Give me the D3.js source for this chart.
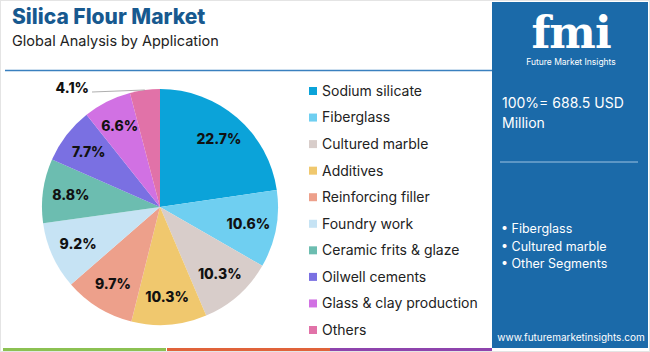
<!DOCTYPE html>
<html>
<head>
<meta charset="utf-8">
<script src="https://cdn.jsdelivr.net/npm/d3@7"></script>
<style>
  body { margin: 0; background: #fff; }
  svg { display: block; font-family: Inter, "Open Sans", sans-serif; }
</style>
</head>
<body>
<div id="chart"></div>
<script>
// Dữ liệu biểu đồ
const categories = ["Sodium silicate", "Fiberglass", "Cultured marble", "Additives", "Reinforcing filler",
  "Foundry work", "Ceramic frits & glaze", "Oilwell cements", "Glass & clay production", "Others"];
const shares = [22.7, 10.6, 10.3, 10.3, 9.7, 9.2, 8.8, 7.7, 6.6, 4.1];
const colors = ["#0ba3d9", "#6fcff1", "#d8cdca", "#f0c86e", "#eda08b", "#c6e3f4", "#6cbdb0", "#7a70e2", "#d171e3", "#e172a8"];
const panelBullets = ["Fiberglass", "Cultured marble", "Other Segments"];

const width = 650, height = 352;
const svg = d3.select("#chart").append("svg")
  .attr("width", width).attr("height", height);

// Khung ngoài
svg.append("rect").attr("x", 0.5).attr("y", 0.5).attr("width", width - 1).attr("height", height - 1)
  .attr("fill", "#fff").attr("stroke", "#e4e4e4");

// Tiêu đề
svg.append("text").attr("x", 12).attr("y", 24)
  .style("font-size", "21px").style("font-weight", "800").style("fill", "#17598f")
  .text("Silica Flour Market");
svg.append("text").attr("x", 12).attr("y", 46)
  .style("font-size", "14.5px").style("fill", "#222")
  .text("Global Analysis by Application");
svg.append("line").attr("x1", 5).attr("x2", 492).attr("y1", 70.5).attr("y2", 70.5)
  .attr("stroke", "#3a80bf").attr("stroke-width", 1.5);

// Pie
const cx = 160, cy = 207, R = 118;
const data = categories.map((c, i) => ({ name: c, value: shares[i], color: colors[i] }));
const pie = d3.pie().value(d => d.value).sort(null);
const arc = d3.arc().innerRadius(0).outerRadius(R);
const labelArc = d3.arc().innerRadius(90).outerRadius(90);
const arcs = pie(data);

const g = svg.append("g").attr("transform", `translate(${cx},${cy})`);
g.selectAll("path").data(arcs).enter().append("path")
  .attr("d", arc).attr("fill", d => d.data.color);

g.selectAll(".lbl").data(arcs.filter(d => d.data.value > 5)).enter().append("text")
  .attr("class", "lbl")
  .attr("transform", d => {
    const [x, y] = labelArc.centroid(d);
    return `translate(${x},${y})`;
  })
  .attr("text-anchor", "middle").attr("dy", "0.35em")
  .style("font-size", "14px").style("font-weight", "800").style("fill", "#111")
  .text(d => d.data.value.toFixed(1) + "%");

// Nhãn nhỏ bên ngoài với đường dẫn
arcs.filter(d => d.data.value <= 5).forEach(d => {
  const mid = (d.startAngle + d.endAngle) / 2;
  const px = Math.sin(mid) * R, py = -Math.cos(mid) * R;
  g.append("line").attr("x1", -68).attr("y1", -115).attr("x2", px).attr("y2", py)
    .attr("stroke", "#999").attr("stroke-width", 0.8);
  g.append("text").attr("x", -71).attr("y", -114)
    .attr("text-anchor", "end")
    .style("font-size", "14px").style("font-weight", "800").style("fill", "#111")
    .text(d.data.value.toFixed(1) + "%");
});

// Chú thích
const legendY = d3.scalePoint().domain(categories).range([91, 330]);
const legend = svg.append("g");
categories.forEach((c, i) => {
  legend.append("rect").attr("x", 309).attr("y", legendY(c) - 4).attr("width", 8).attr("height", 8)
    .attr("fill", colors[i]);
  legend.append("text").attr("x", 322).attr("y", legendY(c)).attr("dy", "0.35em")
    .style("font-size", "14px").style("fill", "#222").text(c);
});

// Panel bên phải
const px0 = 492;
svg.append("rect").attr("x", px0).attr("y", 2).attr("width", width - px0 - 2).attr("height", 346)
  .attr("fill", "#1b6aa9");
svg.append("text").attr("x", 571).attr("y", 48).attr("text-anchor", "middle")
  .style("font-family", "'DejaVu Serif', serif").style("font-size", "44px").style("font-weight", "bold")
  .style("fill", "#fff").style("letter-spacing", "-1px").text("fmi");
svg.append("text").attr("x", 571).attr("y", 65).attr("text-anchor", "middle")
  .style("font-size", "8.5px").style("fill", "#fff").text("Future Market Insights");
svg.append("text").attr("x", 502).attr("y", 108)
  .style("font-size", "14px").style("fill", "#fff").text("100%= 688.5 USD");
svg.append("text").attr("x", 502).attr("y", 128)
  .style("font-size", "14px").style("fill", "#fff").text("Million");
svg.append("line").attr("x1", 500).attr("x2", 638).attr("y1", 162).attr("y2", 162)
  .attr("stroke", "#9fc3e2").attr("stroke-width", 1);
panelBullets.forEach((b, i) => {
  svg.append("text").attr("x", 501).attr("y", 233 + i * 17.5)
    .style("font-size", "12.5px").style("fill", "#fff").text("• " + b);
});
svg.append("text").attr("x", 571).attr("y", 341).attr("text-anchor", "middle")
  .style("font-size", "10px").style("fill", "#fff").text("www.futuremarketinsights.com");

// Dải màu dưới cùng
[["#8cc152", 3, 166], ["#e0633a", 167, 330], ["#8e44ad", 330, 492]].forEach(([c, a, b]) => {
  svg.append("rect").attr("x", a).attr("y", 348).attr("width", b - a).attr("height", 3).attr("fill", c);
});
</script>
</body>
</html>
